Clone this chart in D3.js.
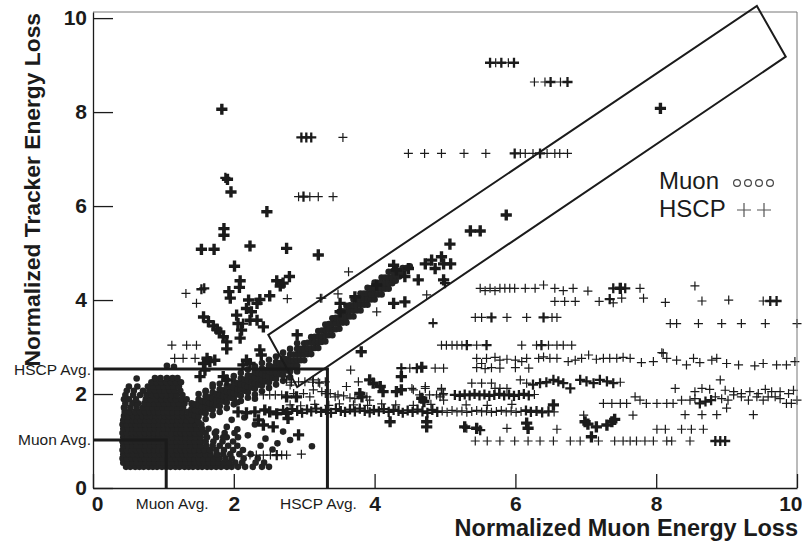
<!DOCTYPE html>
<html>
<head>
<meta charset="utf-8">
<script src="https://cdn.jsdelivr.net/npm/d3@7"></script>
<style>
  body { margin: 0; background: #fff; }
  text { font-family: "Liberation Sans", Arial, sans-serif; }
</style>
</head>
<body>
<div id="chartDiv"></div>
<script>

// ---- data ----

var xTicks = [0, 2, 4, 6, 8, 10];
var yTicks = [0, 2, 4, 6, 8, 10];
var xMinor = [0.5, 1, 1.5, 2.5, 3, 3.5, 4.5, 5, 5.5, 6.5, 7, 7.5, 8.5, 9, 9.5];
var yMinor = [0.5, 1, 1.5, 2.5, 3, 3.5, 4.5, 5, 5.5, 6.5, 7, 7.5, 8.5, 9, 9.5];

var avgNames = ["Muon Avg.", "HSCP Avg."];
var avgX = [1.04, 3.33];
var avgY = [1.02, 2.53];

var legendNames = ["Muon", "HSCP"];

// corners of the tilted selection window (data units)
var selectionBox = [[2.49, 3.26], [9.43, 10.26], [9.84, 9.18], [2.90, 2.15]];

// muon blob, row by row
var muonRows = [
  {y: 0.45, x: [0.47,0.53,0.6,0.66,0.72,0.79,0.85,0.91,0.98,1.04,1.1,1.17,1.23,1.3,1.36,1.42,1.49,1.55,1.62,1.68,1.75,1.82,1.9,1.97,2.06,2.16,2.27,2.4,2.5]},
  {y: 0.54, x: [0.43,0.5,0.56,0.62,0.69,0.75,0.81,0.88,0.94,1.0,1.07,1.13,1.2,1.26,1.32,1.39,1.45,1.52,1.58,1.65,1.71,1.78,1.86,1.93,2.02,2.12,2.31,2.43]},
  {y: 0.63, x: [0.42,0.48,0.55,0.61,0.68,0.74,0.8,0.87,0.93,0.99,1.06,1.12,1.18,1.25,1.31,1.38,1.44,1.5,1.57,1.64,1.71,1.79,1.88,1.97,2.14,2.34]},
  {y: 0.72, x: [0.43,0.5,0.56,0.63,0.69,0.76,0.82,0.88,0.95,1.01,1.07,1.14,1.2,1.27,1.33,1.39,1.46,1.52,1.6,1.67,1.76,1.85,1.95,2.08,2.24]},
  {y: 0.81, x: [0.42,0.48,0.55,0.61,0.67,0.74,0.8,0.87,0.93,0.99,1.06,1.12,1.19,1.25,1.31,1.38,1.44,1.51,1.58,1.66,1.75,1.86,1.99,2.13]},
  {y: 0.9,  x: [0.43,0.5,0.56,0.62,0.69,0.75,0.82,0.88,0.94,1.01,1.07,1.13,1.2,1.26,1.33,1.39,1.46,1.53,1.61,1.7,1.8,1.92,2.05]},
  {y: 0.99, x: [0.42,0.48,0.55,0.61,0.68,0.74,0.8,0.87,0.93,1.0,1.06,1.12,1.19,1.25,1.32,1.38,1.45,1.52,1.6,1.71,1.84,1.99]},
  {y: 1.08, x: [0.43,0.49,0.56,0.62,0.68,0.75,0.81,0.88,0.94,1.0,1.07,1.13,1.2,1.26,1.32,1.39,1.46,1.53,1.62,1.75,1.9,2.06]},
  {y: 1.17, x: [0.42,0.48,0.55,0.61,0.67,0.74,0.8,0.87,0.93,0.99,1.06,1.12,1.19,1.25,1.31,1.38,1.45,1.52,1.6,1.73,1.87,2.01]},
  {y: 1.26, x: [0.43,0.5,0.56,0.62,0.69,0.75,0.82,0.88,0.94,1.01,1.07,1.14,1.2,1.26,1.33,1.4,1.47,1.55,1.64]},
  {y: 1.35, x: [0.42,0.48,0.55,0.61,0.68,0.74,0.8,0.87,0.93,1.0,1.06,1.12,1.19,1.25,1.32,1.39,1.46,1.54]},
  {y: 1.44, x: [0.43,0.49,0.56,0.62,0.68,0.75,0.81,0.88,0.94,1.0,1.07,1.13,1.2,1.26,1.33,1.4,1.48]},
  {y: 1.53, x: [0.44,0.5,0.57,0.63,0.7,0.76,0.82,0.89,0.95,1.02,1.08,1.14,1.21,1.28,1.35,1.43]},
  {y: 1.62, x: [0.45,0.52,0.6,0.67,0.74,0.8,0.87,0.93,1.0,1.06,1.13,1.2,1.27,1.35]},
  {y: 1.71, x: [0.44,0.53,0.62,0.71,0.78,0.85,0.92,0.99,1.06,1.13,1.2,1.28]},
  {y: 1.8,  x: [0.46,0.56,0.64,0.73,0.8,0.87,0.94,1.01,1.08,1.15,1.22,1.3]},
  {y: 1.89, x: [0.44,0.51,0.61,0.75,0.82,0.9,0.97,1.04,1.11,1.18,1.26,1.33]},
  {y: 1.98, x: [0.46,0.57,0.67,0.76,0.84,0.91,0.98,1.05,1.12,1.19,1.27]},
  {y: 2.07, x: [0.48,0.58,0.71,0.8,0.88,0.95,1.02,1.09,1.16,1.24]},
  {y: 2.16, x: [0.51,0.63,0.78,0.86,0.93,1.0,1.07,1.14,1.22]},
  {y: 2.25, x: [0.83,0.9,0.97,1.04,1.11,1.18,1.25]},
  {y: 2.34, x: [0.88,0.96,1.05,1.13,1.2]}
];

// the diagonal muon band, column by column
var muonBand = [
  {x: 1.40, y: [1.44,1.56,1.68,1.80]}, {x: 1.45, y: [1.54,1.66,1.78]},
  {x: 1.50, y: [1.40,1.52,1.64,1.76,1.88,2.00]}, {x: 1.55, y: [1.61,1.73,1.85]},
  {x: 1.60, y: [1.47,1.59,1.71,1.83,1.95,2.07]}, {x: 1.65, y: [1.69,1.81,1.93]},
  {x: 1.70, y: [1.55,1.67,1.79,1.91,2.03,2.15]}, {x: 1.75, y: [1.76,1.88,2.0]},
  {x: 1.80, y: [1.62,1.74,1.86,1.98,2.10,2.22]}, {x: 1.85, y: [1.84,1.96,2.08]},
  {x: 1.90, y: [1.70,1.82,1.94,2.06,2.18,2.30]}, {x: 1.95, y: [1.92,2.04,2.16]},
  {x: 2.00, y: [1.78,1.90,2.02,2.14,2.26,2.38]}, {x: 2.05, y: [1.99,2.11,2.23]},
  {x: 2.10, y: [1.85,1.97,2.09,2.21,2.33,2.45]}, {x: 2.15, y: [2.07,2.19,2.31]},
  {x: 2.20, y: [1.92,2.04,2.16,2.28,2.40,2.52]}, {x: 2.25, y: [2.14,2.26,2.38]},
  {x: 2.30, y: [1.99,2.11,2.23,2.35,2.47,2.59]}, {x: 2.35, y: [2.20,2.32,2.44]},
  {x: 2.40, y: [2.06,2.18,2.30,2.42,2.54,2.66]}, {x: 2.45, y: [2.27,2.39,2.51]},
  {x: 2.50, y: [2.13,2.25,2.37,2.49,2.61,2.73]}, {x: 2.55, y: [2.34,2.46,2.58]},
  {x: 2.60, y: [2.20,2.32,2.44,2.56,2.68,2.80]}, {x: 2.65, y: [2.42,2.54,2.66]},
  {x: 2.70, y: [2.28,2.40,2.52,2.64,2.76,2.88]}, {x: 2.75, y: [2.50,2.62,2.74]},
  {x: 2.80, y: [2.36,2.48,2.60,2.72,2.84,2.96]}, {x: 2.85, y: [2.60,2.72,2.84]},
  {x: 2.90, y: [2.48,2.60,2.72,2.84,2.96,3.08]}, {x: 2.95, y: [2.72,2.84,2.96]},
  {x: 3.00, y: [2.72,2.84,2.96,3.08]}, {x: 3.05, y: [2.85,2.97,3.09]},
  {x: 3.10, y: [2.85,2.97,3.09,3.21]}, {x: 3.15, y: [2.98,3.10,3.22]},
  {x: 3.20, y: [2.98,3.10,3.22,3.34]}, {x: 3.25, y: [3.11,3.23,3.35]},
  {x: 3.30, y: [3.12,3.24,3.36,3.48]}, {x: 3.35, y: [3.25,3.37,3.49]},
  {x: 3.40, y: [3.25,3.37,3.49,3.61]}, {x: 3.45, y: [3.38,3.50,3.62]},
  {x: 3.50, y: [3.39,3.51,3.63,3.75]}, {x: 3.55, y: [3.52,3.64,3.76]},
  {x: 3.60, y: [3.52,3.64,3.76,3.88]}, {x: 3.65, y: [3.65,3.77,3.89]},
  {x: 3.70, y: [3.65,3.77,3.89,4.01]}, {x: 3.75, y: [3.78,3.90,4.02]},
  {x: 3.80, y: [3.78,3.90,4.02,4.14]}, {x: 3.85, y: [3.90,4.02,4.14]},
  {x: 3.90, y: [3.90,4.02,4.14,4.26]}, {x: 3.95, y: [4.01,4.13,4.25]},
  {x: 4.00, y: [4.01,4.13,4.25,4.37]}, {x: 4.05, y: [4.12,4.24,4.36]},
  {x: 4.10, y: [4.12,4.24,4.36,4.48]}, {x: 4.15, y: [4.24,4.36,4.48]},
  {x: 4.20, y: [4.24,4.36,4.48,4.60]}, {x: 4.25, y: [4.36,4.48,4.60]},
  {x: 4.30, y: [4.41,4.53,4.65]}, {x: 4.35, y: [4.50,4.62]},
  {x: 4.40, y: [4.56,4.68]}, {x: 4.45, y: [4.68]}, {x: 4.50, y: [4.72]}
];

// loose muon dots around the blob
var muonSparse = [[1.75,1.2],[1.85,1.08],[2.05,1.25],[2.2,1.12],[2.45,1.05],[2.62,0.95],[2.8,1.02],
  [3.11,0.89],[2.7,1.2],[1.97,1.45],[2.15,1.5],[2.3,1.9],[2.05,1.82],[1.7,2.2],[1.6,2.05],[0.62,2.33],
  [1.05,2.6],[1.15,2.58],[2.38,0.9],[2.55,0.82],[1.9,1.3],[2.3,1.35]];

// HSCP crosses: [x, y, entries stacked on the spot]
var hscpUpper = [
  [5.64,9.05,2],[5.72,9.05,1],[5.8,9.05,2],[5.9,9.05,1],[5.98,9.05,2],
  [6.27,8.64,1],[6.42,8.64,1],[6.5,8.64,2],[6.64,8.64,1],[6.74,8.64,2],
  [8.06,8.08,3],[1.83,8.06,3],
  [2.96,7.46,2],[3.03,7.46,2],[3.1,7.46,2],[3.55,7.46,1],
  [4.48,7.12,1],[4.71,7.12,1],[4.95,7.12,1],[5.27,7.12,1],[5.58,7.12,1],
  [5.99,7.12,2],[6.07,7.12,1],[6.14,7.12,1],[6.25,7.12,1],[6.35,7.12,2],[6.45,7.12,1],[6.56,7.12,1],[6.63,7.12,1],[6.74,7.12,1],
  [1.91,6.57,3],[1.88,6.6,2],[1.96,6.3,3],
  [2.92,6.2,1],[2.99,6.2,2],[3.08,6.2,1],[3.2,6.2,1],[3.41,6.2,1],
  [2.47,5.88,3],[5.87,5.81,3],[1.86,5.52,3],[1.86,5.38,3],[5.36,5.47,3],[5.5,5.47,3],
  [1.54,5.08,3],[1.72,5.08,3],[2.23,5.15,3],[2.75,5.1,3],[3.2,4.96,3],[5.07,5.19,3],
  [2.01,4.72,3],[3.63,4.6,1],[2.09,4.41,3],[2.08,4.27,3],
  [1.54,4.23,2],[1.58,4.25,2],[1.32,4.14,1],[1.47,3.93,1],[1.93,4.18,3],[1.95,4.04,3],
  [2.61,4.41,3],[2.66,4.3,3],[2.79,4.5,3],[2.7,4.36,3],[2.51,4.09,3],[2.76,4.03,1],[3.23,4.04,1],[3.48,4.13,1],
  [2.21,4.0,3],[2.18,3.82,3],[2.33,3.93,3],[2.37,4.01,3],[2.25,3.75,3],[2.23,3.57,3],[2.04,3.68,3],
  [2.06,3.5,3],[2.11,3.36,3],[2.33,3.57,3],[2.42,3.43,3],
  [1.57,3.64,3],[1.64,3.54,3],[1.71,3.45,3],[1.76,3.38,3],[1.8,3.32,3],[1.85,3.22,3],[1.9,3.11,3],[1.9,2.96,3],
  [2.09,3.19,3],[2.13,3.5,2],[2.9,3.26,3]
];

var hscpBandEdge = [
  [4.72,4.77,3],[4.81,4.85,3],[4.86,4.67,3],[4.95,4.92,3],[4.98,4.77,3],[5.08,4.77,3],[4.98,4.43,3],[5.0,4.36,2],
  [4.74,4.11,1],[4.48,4.67,3],[4.62,4.43,3],[4.83,3.52,1],[3.51,3.93,3],[3.72,4.07,3],[4.03,4.32,3],
  [4.27,3.93,3],[4.43,3.96,3],[3.51,3.75,3],[4.03,3.75,1],[3.25,4.04,1],[4.27,4.74,3],[4.31,4.64,3],[4.43,4.5,3],
  [3.81,2.9,3],[3.66,2.51,1],[8.08,2.88,1]
];

var hscpRows = [
  // ~4.25
  [5.5,4.25,1],[5.57,4.2,1],[5.64,4.25,1],[5.71,4.2,1],[5.78,4.25,1],[5.85,4.25,1],[5.92,4.25,1],[5.99,4.25,1],
  [6.14,4.25,1],[6.28,4.25,1],[6.4,4.32,1],[6.56,4.25,1],[6.68,4.2,1],[6.82,4.25,1],[7.03,4.19,1],
  [7.39,4.25,2],[7.49,4.25,3],[7.56,4.25,2],[7.77,4.25,1],[8.55,4.3,1],
  // ~3.97
  [6.56,3.97,1],[6.7,3.97,1],[6.85,3.97,1],[7.19,3.97,1],[7.34,4.02,2],[7.39,3.94,1],[7.51,4.04,1],[7.82,4.04,1],
  [8.13,3.95,1],[8.65,3.98,1],[9.03,4.0,1],[9.52,3.98,1],[9.62,3.98,2],[9.71,3.98,2],
  // ~3.5 - 3.63
  [5.43,3.63,1],[5.52,3.63,1],[5.66,3.63,2],[5.88,3.63,1],[6.16,3.63,1],[6.4,3.63,2],[6.52,3.63,1],[6.59,3.63,1],
  [4.83,3.5,1],[8.2,3.5,1],[8.29,3.5,1],[8.6,3.5,1],[8.93,3.5,1],[9.21,3.5,1],[9.55,3.5,1],[10.0,3.5,1],
  // ~3.04
  [4.95,3.04,1],[5.02,3.04,1],[5.1,3.04,1],[5.17,3.04,1],[5.24,3.04,1],[5.31,3.04,2],[5.45,3.04,1],[5.59,3.04,2],
  [6.09,3.04,1],[6.3,3.04,1],[6.37,3.04,2],[6.47,3.04,1],[6.59,3.04,1],[6.68,3.04,1],[6.8,3.04,1],
  // ~2.7
  [5.45,2.76,1],[5.52,2.65,1],[5.59,2.76,1],[5.71,2.78,1],[5.78,2.72,1],[5.88,2.74,1],[6.0,2.72,1],[6.09,2.69,1],
  [6.16,2.76,1],[6.33,2.76,1],[6.4,2.79,1],[6.49,2.76,1],[6.59,2.76,1],[6.75,2.69,1],[6.85,2.72,1],[6.94,2.76,1],
  [7.04,2.83,1],[7.15,2.74,1],[7.25,2.76,1],[7.34,2.76,1],[7.44,2.76,1],[7.53,2.78,1],[7.63,2.76,1],[7.79,2.67,1],
  [7.96,2.69,1],[8.1,2.87,1],[8.15,2.76,1],[8.29,2.72,1],[8.43,2.62,1],[8.53,2.76,1],[8.62,2.67,1],[8.79,2.72,1],
  [8.86,2.76,1],[9.0,2.65,1],[9.17,2.62,1],[9.4,2.6,1],[9.52,2.65,1],[9.71,2.62,1],[9.85,2.62,1],[9.97,2.69,1],
  [5.45,2.56,1],[5.57,2.54,1],[5.66,2.56,1],[5.78,2.55,1],[6.0,2.56,1],[6.19,2.55,1],
  [4.38,2.55,2],[4.5,2.55,1],[4.6,2.55,2],[4.67,2.57,3],[4.86,2.55,1],[4.98,2.55,1],[4.38,2.37,3],
  // ~2.2
  [5.38,2.23,1],[5.52,2.23,1],[5.66,2.23,1],[5.71,2.12,1],[5.78,2.12,1],[5.88,2.12,1],[6.07,2.3,1],[6.16,2.23,1],
  [6.25,2.2,2],[6.35,2.23,2],[6.44,2.25,2],[6.54,2.3,2],[6.61,2.27,2],[6.68,2.23,2],[6.78,2.12,2],[6.92,2.3,2],
  [7.01,2.27,2],[7.11,2.23,2],[7.2,2.3,2],[7.3,2.27,2],[7.39,2.23,2],[7.49,2.25,1],[8.27,2.12,1],[8.55,2.05,1],
  [8.65,2.12,1],[8.76,2.1,1],[8.91,2.3,1],[8.98,2.08,1],[9.1,2.05,1],[9.21,2.01,1],[9.33,2.05,1],[9.45,2.01,1],
  [9.55,2.1,1],[9.64,2.05,1],[9.76,2.05,1],[9.88,2.01,1],[9.95,2.08,1],
  [4.53,2.12,1],[4.72,2.12,1],[4.95,2.12,1],[4.64,1.98,1],[4.78,1.98,1],[4.88,1.98,1],[4.97,1.98,1],
  // ~1.98
  [5.14,1.98,2],[5.21,1.96,2],[5.28,1.99,2],[5.35,1.97,2],[5.42,2.0,2],[5.49,1.97,2],[5.56,1.99,2],[5.63,1.96,2],
  [5.7,1.98,2],[5.77,2.0,2],[5.84,1.97,2],[5.91,1.99,2],[5.98,1.96,2],[6.05,1.98,2],[6.12,2.0,2],[6.19,1.97,2],[6.27,1.99,1],
  [7.25,1.8,1],[7.37,1.8,1],[7.49,1.8,1],[7.58,1.8,1],[7.7,1.94,1],[7.77,1.87,1],[7.86,1.8,1],[8.01,1.8,1],
  [8.15,1.8,1],[8.24,1.8,1],[8.36,1.87,1],[8.48,1.87,1],[8.55,1.9,1],[8.62,1.8,2],[8.7,1.84,2],[8.78,1.87,2],
  [8.84,1.94,1],[8.93,1.9,1],[9.02,1.87,1],[9.1,1.98,1],[9.21,1.94,1],[9.31,1.87,1],[9.43,1.94,1],[9.52,1.87,1],
  [9.59,1.94,1],[9.69,1.94,1],[9.76,1.9,1],[9.85,1.8,1],[9.92,1.8,1],[10.0,1.87,1]
];

var hscpLower = [
  // crosses right of the HSCP average, 1.8 - 2.3
  [3.48,1.98,1],[3.56,1.96,1],[3.65,1.92,1],[3.72,1.9,1],[3.89,1.94,1],[3.93,1.87,1],[3.79,2.01,3],[3.82,1.94,3],
  [4.31,2.05,3],[4.38,2.09,3],[4.12,2.05,3],[4.08,2.16,3],[3.98,2.23,3],[3.93,2.3,3],[3.77,2.26,1],[3.6,2.16,1],
  [4.55,2.09,1],[4.72,2.16,1],[4.95,2.09,1],[4.98,2.01,1],[4.93,1.94,1],[4.98,1.87,1],[4.67,1.91,3],[4.7,1.84,3],
  [3.37,2.01,1],[3.44,1.94,1],
  // dense row ~1.64
  [2.7,1.66,2],[2.76,1.62,2],[2.83,1.68,2],[2.9,1.64,2],[2.97,1.6,2],[3.04,1.67,2],[3.1,1.63,2],[3.17,1.69,2],
  [3.24,1.62,2],[3.31,1.66,2],[3.38,1.6,2],[3.45,1.68,2],[3.52,1.64,2],[3.58,1.62,2],[3.65,1.67,2],[3.72,1.63,2],
  [3.79,1.69,2],[3.86,1.64,2],[3.93,1.61,2],[3.99,1.66,2],[4.06,1.63,2],[4.13,1.68,2],[4.2,1.62,2],[4.27,1.66,2],
  [4.34,1.64,2],[4.4,1.6,2],[4.47,1.65,2],[4.54,1.62,2],[4.61,1.67,2],[4.68,1.63,2],[4.75,1.6,2],[4.82,1.66,2],
  [4.89,1.62,2],[4.96,1.64,1],[5.03,1.61,1],[5.1,1.65,1],[5.17,1.62,1],[5.24,1.64,1],[5.31,1.61,1],[5.38,1.63,1],
  [5.45,1.65,1],[5.52,1.62,1],[5.59,1.64,1],[5.66,1.61,1],[5.73,1.63,1],[5.8,1.65,1],[5.87,1.62,1],[5.94,1.64,1],
  [6.01,1.61,1],[6.08,1.63,1],[6.15,1.65,2],[6.22,1.62,2],[6.3,1.64,2],[6.38,1.61,2],[6.47,1.63,2],[6.55,1.62,1],
  [2.8,1.77,1],[2.95,1.75,1],[3.15,1.78,1],[3.35,1.76,1],[3.5,1.79,1],[3.7,1.77,1],[3.9,1.76,1],[4.1,1.79,1],
  [4.3,1.77,1],[4.55,1.76,1],[4.8,1.78,1],[5.3,1.77,1],[5.6,1.76,1],[5.95,1.78,1],
  // below the dense row
  [2.75,1.59,3],[2.77,1.48,3],[4.22,1.41,3],[4.74,1.41,3],[4.74,1.3,3],[2.92,1.13,3],[6.54,1.77,3],
  [5.28,1.3,3],[5.45,1.27,3],[5.5,1.23,2],[5.31,1.27,1],[5.88,1.27,1],[6.16,1.38,3],[6.18,1.27,3],[6.59,1.25,1],
  [6.97,1.55,1],[6.99,1.41,3],[7.03,1.36,3],[7.15,1.3,3],[7.3,1.34,3],[7.37,1.41,3],[7.41,1.46,3],[7.67,1.55,1],
  [8.41,1.56,1],[8.65,1.56,1],[8.86,1.56,1],[9.38,1.56,1],[9.0,1.7,1],
  [8.01,1.25,1],[8.13,1.25,1],[8.36,1.25,1],[8.5,1.25,1],[8.67,1.25,1],
  // ~1.0
  [5.43,1.0,1],[5.6,1.0,1],[5.78,1.0,1],[5.99,1.0,1],[6.18,1.0,1],[6.35,1.0,1],[6.54,1.0,1],[6.78,1.0,1],
  [6.92,1.0,1],[7.08,1.09,3],[7.18,1.0,1],[7.41,1.0,1],[7.53,1.0,1],[7.63,1.0,1],[7.72,1.0,1],[7.84,1.0,1],
  [7.96,1.0,1],[8.15,1.0,1],[8.22,1.0,1],[8.48,1.0,1],[8.84,1.0,2],[8.91,1.0,2],[8.98,1.0,2],
  // inside the HSCP average box
  [2.42,1.98,1],[2.51,1.98,1],[2.59,1.98,1],[2.68,1.98,1],[2.75,1.94,3],[2.89,1.94,3],[2.82,2.25,1],[3.12,2.25,1],
  [3.2,2.25,1],[2.75,2.3,1],[2.8,2.19,1],[2.92,2.26,1],[3.01,2.26,1],[3.13,2.3,1],[3.22,2.23,1],[3.3,2.26,1],
  [3.25,2.05,1],[3.3,2.01,1],[3.08,1.94,1],[3.13,2.09,1],[2.99,2.01,1],[2.85,2.01,1],
  [2.06,1.62,3],[2.18,1.6,3],[2.3,1.62,3],[2.44,1.66,3],[2.51,1.62,3],[2.61,1.58,3],
  [2.35,1.45,3],[2.42,1.34,3],[2.56,1.3,3],
  [2.23,0.7,1],[2.32,0.7,1],[2.42,0.7,1],[2.52,0.7,1],[2.61,0.7,2],[2.75,0.7,1],[2.96,0.72,1],[2.68,0.7,1],
  [1.12,3.04,1],[1.33,3.04,1],[1.47,3.04,1],[1.16,2.76,1],[1.28,2.76,1],[1.45,2.76,1],
  [1.62,2.76,3],[1.66,2.69,3],[1.57,2.65,3],[1.59,2.51,3],[1.52,2.37,3],[1.73,2.72,3],[2.18,2.72,3],[2.23,2.65,3],
  [2.13,2.62,3],[2.37,2.94,3],[2.39,2.83,3],[1.85,2.37,3],[1.9,2.3,3]
];

// ---- drawing ----

var svg = d3.select("#chartDiv").append("svg")
    .attr("width", 802)
    .attr("height", 542);

var margin = {top: 12, right: 5, bottom: 54, left: 93};
var width = 802 - margin.left - margin.right,
    height = 542 - margin.top - margin.bottom;

var x_scale = d3.scaleLinear().domain([0, 10]).range([margin.left, margin.left + width]);
var y_scale = d3.scaleLinear().domain([0, 10.13]).range([margin.top + height, margin.top]);

var ink = "#1b1b1b";

var chart_svg = svg.append("g").attr("class", "svg_chart");

// muons
var muonPts = [];
muonRows.forEach(function(r) { r.x.forEach(function(v) { muonPts.push([v, r.y]); }); });
muonBand.forEach(function(c) { c.y.forEach(function(v) { muonPts.push([c.x, v]); }); });
muonSparse.forEach(function(p) { muonPts.push(p); });

chart_svg.append("g").selectAll("circle").data(muonPts).enter()
    .append("circle")
    .attr("cx", function(d) { return x_scale(d[0]); })
    .attr("cy", function(d) { return y_scale(d[1]); })
    .attr("r", 3.3)
    .attr("fill", "#232323");

// hscp crosses
var hscpAll = hscpUpper.concat(hscpBandEdge, hscpRows, hscpLower);
var armLen = d3.scaleLinear().domain([1, 3]).range([4.5, 5.6]);
var armWidth = d3.scaleLinear().domain([1, 3]).range([1.2, 3.4]);

chart_svg.append("g").selectAll("path").data(hscpAll).enter()
    .append("path")
    .attr("transform", function(d) { return "translate(" + x_scale(d[0]) + "," + y_scale(d[1]) + ")"; })
    .attr("d", function(d) { var h = armLen(d[2]); return "M" + (-h) + ",0H" + h + "M0," + (-h) + "V" + h; })
    .style("fill", "none")
    .style("stroke", ink)
    .style("stroke-width", function(d) { return armWidth(d[2]); });

// frame top / right
chart_svg.append("path")
    .attr("d", "M" + x_scale(0) + "," + margin.top + "H" + x_scale(10) + "V" + (margin.top + height))
    .style("fill", "none").style("stroke", "#777").style("stroke-width", 1);

// axes
var xAxisG = chart_svg.append("g").attr("transform", "translate(0," + (margin.top + height) + ")");
xAxisG.call(d3.axisBottom(x_scale).tickValues(xMinor).tickFormat("").tickSizeInner(-7).tickSizeOuter(0));
xAxisG.call(d3.axisBottom(x_scale).tickValues(xTicks).tickSizeInner(-14).tickSizeOuter(0).tickPadding(8));

var yAxisG = chart_svg.append("g").attr("transform", "translate(" + margin.left + ",0)");
yAxisG.call(d3.axisLeft(y_scale).tickValues(yMinor).tickFormat("").tickSizeInner(-10).tickSizeOuter(0));
yAxisG.call(d3.axisLeft(y_scale).tickValues(yTicks).tickSizeInner(-20).tickSizeOuter(0).tickPadding(6));

chart_svg.selectAll(".domain, .tick line").style("stroke", ink).style("stroke-width", 1.3);
chart_svg.selectAll(".tick text")
    .style("font-family", "'Liberation Sans', Arial, sans-serif")
    .style("font-weight", "bold")
    .style("font-size", "21px")
    .style("fill", ink);
xAxisG.selectAll(".tick text").filter(function(d) { return d === 10; }).attr("text-anchor", "end").attr("x", 5);
xAxisG.selectAll(".tick text").filter(function(d) { return d === 0; }).attr("x", 4);

// average lines
avgX.forEach(function(ax, i) {
  chart_svg.append("path")
      .attr("d", "M" + x_scale(0) + "," + y_scale(avgY[i]) + "H" + x_scale(ax) + "V" + y_scale(0))
      .style("fill", "none").style("stroke", ink).style("stroke-width", 3);
});

chart_svg.append("g").selectAll("text.yavg").data(avgNames).enter()
    .append("text")
    .attr("x", margin.left - 2)
    .attr("y", function(d, i) { return y_scale(avgY[i]); })
    .attr("dy", "0.35em")
    .attr("text-anchor", "end")
    .style("font-size", "15.5px")
    .style("fill", ink)
    .text(function(d) { return d; });

chart_svg.append("g").selectAll("text.xavg").data(avgNames).enter()
    .append("text")
    .attr("x", function(d, i) { return x_scale(avgX[i]) + (i === 0 ? 6 : -9); })
    .attr("y", margin.top + height + 21)
    .attr("text-anchor", "middle")
    .style("font-size", "15.5px")
    .style("fill", ink)
    .text(function(d) { return d; });

// tilted selection box
chart_svg.append("path")
    .attr("d", d3.line().x(function(d) { return x_scale(d[0]); }).y(function(d) { return y_scale(d[1]); })(selectionBox) + "Z")
    .style("fill", "none").style("stroke", ink).style("stroke-width", 2);

// titles
chart_svg.append("text")
    .attr("x", 798)
    .attr("y", 536)
    .attr("text-anchor", "end")
    .style("font-size", "23.5px").style("font-weight", "bold").style("fill", ink)
    .text("Normalized Muon Energy Loss");

chart_svg.append("text")
    .attr("transform", "translate(40,13) rotate(-90)")
    .attr("text-anchor", "end")
    .style("font-size", "22.8px").style("font-weight", "bold").style("fill", ink)
    .text("Normalized Tracker Energy Loss");

// legend
var legend = chart_svg.append("g").attr("class", "legend");
legend.selectAll("text").data(legendNames).enter()
    .append("text")
    .attr("x", 659)
    .attr("y", function(d, i) { return 189 + i * 28; })
    .style("font-size", "24px")
    .style("fill", ink)
    .text(function(d) { return d; });

legend.selectAll("circle").data([0, 1, 2, 3]).enter()
    .append("circle")
    .attr("cx", function(d) { return 737 + d * 11; })
    .attr("cy", 183)
    .attr("r", 3.4)
    .style("fill", "none").style("stroke", "#444").style("stroke-width", 1.2);

legend.selectAll("path").data([0, 1]).enter()
    .append("path")
    .attr("transform", function(d) { return "translate(" + (744 + d * 20) + ",210)"; })
    .attr("d", "M-7,0H7M0,-7V7")
    .style("fill", "none").style("stroke", "#555").style("stroke-width", 1.2);

</script>
</body>
</html>
